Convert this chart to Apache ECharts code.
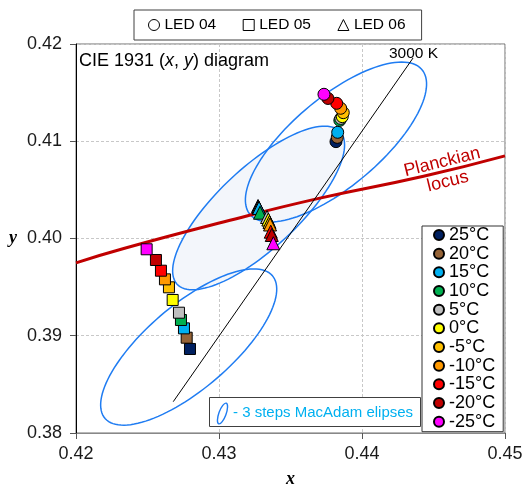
<!DOCTYPE html>
<html>
<head>
<meta charset="utf-8">
<style>
  html, body { margin: 0; padding: 0; background: #fff; }
  #chart { width: 523px; height: 484px; }
</style>
<script src="https://cdn.jsdelivr.net/npm/echarts@6/dist/echarts.min.js"></script>
</head>
<body>
<div id="chart"></div>
<script>
const FONT = '"Liberation Sans", Arial, sans-serif';
const SERIF = '"Liberation Serif", "Times New Roman", serif';

// temperatures and their colours (legend order)
const temps = ['25°C', '20°C', '15°C', '10°C', '5°C', '0°C', '-5°C', '-10°C', '-15°C', '-20°C', '-25°C'];
const tempColors = ['#002060', '#956336', '#00b0f0', '#00b050', '#bfbfbf', '#ffff00', '#ffc000', '#ff9900', '#ff0000', '#c00000', '#ff00ff'];

// chromaticity points, same order as temps
const led04X = [0.43818, 0.43827, 0.43830, 0.43845, 0.43852, 0.43862, 0.43869, 0.43851, 0.43823, 0.43762, 0.43734];
const led04Y = [0.40996, 0.41040, 0.41092, 0.41215, 0.41235, 0.41253, 0.41294, 0.41339, 0.41390, 0.41440, 0.41483];
const led05X = [0.42797, 0.42774, 0.42755, 0.42734, 0.42720, 0.42676, 0.42650, 0.42622, 0.42594, 0.42559, 0.42494];
const led05Y = [0.38864, 0.38980, 0.39076, 0.39162, 0.39237, 0.39368, 0.39498, 0.39580, 0.39669, 0.39779, 0.39889];
const led06X = [0.43273, 0.43276, 0.43280, 0.43287, 0.43336, 0.43345, 0.43353, 0.43357, 0.43362, 0.43369, 0.43380];
const led06Y = [0.40334, 0.40324, 0.40314, 0.40265, 0.40221, 0.40195, 0.40170, 0.40144, 0.40070, 0.40036, 0.39951];

// Planckian locus and 3000 K isotemperature line
const planckX = [0.4200, 0.4234, 0.4303, 0.4369, 0.4443, 0.4500];
const planckY = [0.3975, 0.3990, 0.4017, 0.4041, 0.4064, 0.4085];
const isoX = [0.42680, 0.44357];
const isoY = [0.38322, 0.41856];

// 3 step MacAdam ellipses: centre, semi axes, angle (deg), filled
const ellCx = [0.43277, 0.43818, 0.42788];
const ellCy = [0.40314, 0.40992, 0.38884];
const ellA = [0.0098, 0.0097, 0.0095];
const ellB = [0.0033, 0.0037, 0.0035];
const ellAngle = [57, 55, 55];
const ellFill = [1, 0, 0];

// axis ticks
const xTicks = { min: 0.42, max: 0.45, interval: 0.01 };
const yTicks = { min: 0.38, max: 0.42, interval: 0.01 };

// annotations anchored in data coordinates
const notes = [
  { text: '3000 K', x: 0.44360, y: 0.41900, rot: 0, color: '#000', size: 15.5 },
  { text: 'Planckian', x: 0.44560, y: 0.40785, rot: 0.243, color: '#c00000', size: 18 },
  { text: 'locus', x: 0.44600, y: 0.40585, rot: 0.243, color: '#c00000', size: 18 }
];

const chart = echarts.init(document.getElementById('chart'));

const ledSeries = (name, xs, ys, symbol, size) => ({
  name: name,
  type: 'scatter',
  symbol: symbol,
  symbolSize: size,
  z: 5,
  itemStyle: { color: '#fff', borderColor: '#000', borderWidth: 1, opacity: 1 },
  emphasis: { disabled: true },
  data: xs.map((x, i) => ({ value: [x, ys[i]], itemStyle: { color: tempColors[i] } }))
});

const tempSeries = temps.map((t, i) => ({
  name: t,
  type: 'scatter',
  symbol: 'circle',
  itemStyle: { color: tempColors[i], borderColor: '#000', borderWidth: 1, opacity: 1 },
  data: []
}));

const ellipseData = ellCx.map((cx, i) => [cx, ellCy[i], ellA[i], ellB[i], ellAngle[i], ellFill[i]]);

const option = {
  animation: false,
  backgroundColor: '#fff',
  title: {
    text: '{n|CIE 1931 (}{i|x}{n|, }{i|y}{n|) diagram}',
    left: 79,
    top: 51,
    padding: 0,
    textStyle: {
      fontWeight: 'normal',
      rich: {
        n: { fontFamily: FONT, fontSize: 18, fontWeight: 'normal', color: '#000', lineHeight: 20 },
        i: { fontFamily: FONT, fontSize: 18, fontWeight: 'normal', color: '#000', fontStyle: 'italic', lineHeight: 20 }
      }
    }
  },
  grid: {
    left: 76, right: 18, top: 44, bottom: 51,
    containLabel: false,
    outerBoundsMode: 'none',
    show: true, borderColor: '#6e6e6e', borderWidth: 1, backgroundColor: 'transparent'
  },
  legend: [
    {
      left: 134, top: 10,
      orient: 'horizontal',
      padding: [6, 16, 6, 14],
      itemGap: 26.5,
      itemWidth: 11, itemHeight: 11,
      borderColor: '#404040', borderWidth: 1, backgroundColor: '#fff',
      selectedMode: false,
      itemStyle: { color: '#fff', borderColor: '#000', borderWidth: 1 },
      textStyle: { fontFamily: FONT, fontSize: 15.5, color: '#000', lineHeight: 18 },
      data: [
        { name: 'LED 04', icon: 'circle' },
        { name: 'LED 05', icon: 'rect' },
        { name: 'LED 06', icon: 'triangle' }
      ]
    },
    {
      left: 422, top: 226,
      orient: 'vertical',
      padding: [0, 8, 1, 11],
      itemGap: 0.67,
      itemWidth: 10, itemHeight: 10,
      borderColor: '#333', borderWidth: 1, backgroundColor: '#fff',
      selectedMode: false,
      icon: 'circle',
      textStyle: { fontFamily: FONT, fontSize: 18, color: '#000', lineHeight: 18 },
      data: temps
    }
  ],
  xAxis: {
    type: 'value',
    min: xTicks.min, max: xTicks.max, interval: xTicks.interval,
    name: 'x',
    nameLocation: 'middle',
    nameGap: 37,
    nameTextStyle: { fontFamily: SERIF, fontStyle: 'italic', fontWeight: 'bold', fontSize: 18, color: '#000' },
    axisLine: { show: true, onZero: false, lineStyle: { color: '#888', width: 1 } },
    axisTick: { show: true, length: 6, lineStyle: { color: '#555' } },
    axisLabel: { margin: 12, fontFamily: FONT, fontSize: 18, color: '#1a1a1a', formatter: v => v.toFixed(2) },
    splitLine: { show: true, lineStyle: { color: '#c8c8c8', type: [3, 2], width: 1 } }
  },
  yAxis: {
    type: 'value',
    min: yTicks.min, max: yTicks.max, interval: yTicks.interval,
    name: 'y',
    nameLocation: 'middle',
    nameRotate: 0,
    nameGap: 59,
    nameTextStyle: { fontFamily: SERIF, fontStyle: 'italic', fontWeight: 'bold', fontSize: 18, color: '#000' },
    axisLine: { show: true, onZero: false, lineStyle: { color: '#000', width: 1 } },
    axisTick: { show: true, length: 6, lineStyle: { color: '#555' } },
    axisLabel: { margin: 14, fontFamily: FONT, fontSize: 18, color: '#1a1a1a', formatter: v => v.toFixed(2) },
    splitLine: { show: true, lineStyle: { color: '#c8c8c8', type: [3, 2], width: 1 } }
  },
  series: [
    {
      name: 'MacAdam',
      type: 'custom',
      z: 1,
      silent: true,
      encode: { x: 0, y: 1 },
      data: ellipseData,
      renderItem: (params, api) => {
        const cx = api.value(0), cy = api.value(1);
        const a = api.value(2), b = api.value(3);
        const ang = api.value(4) * Math.PI / 180;
        const filled = api.value(5) === 1;
        const pts = [];
        for (let k = 0; k < 120; k++) {
          const t = k / 120 * Math.PI * 2;
          const ex = a * Math.cos(t), ey = b * Math.sin(t);
          pts.push(api.coord([
            cx + ex * Math.cos(ang) - ey * Math.sin(ang),
            cy + ex * Math.sin(ang) + ey * Math.cos(ang)
          ]));
        }
        return {
          type: 'polygon',
          shape: { points: pts },
          style: { fill: filled ? '#f3f6fb' : 'none', stroke: '#1f7cf2', lineWidth: 1.5 }
        };
      }
    },
    {
      name: 'Planckian locus',
      type: 'line',
      z: 2,
      smooth: true,
      symbol: 'none',
      silent: true,
      lineStyle: { color: '#c00000', width: 3 },
      data: planckX.map((x, i) => [x, planckY[i]])
    },
    {
      name: '3000 K',
      type: 'line',
      z: 3,
      symbol: 'none',
      silent: true,
      lineStyle: { color: '#000', width: 1 },
      data: isoX.map((x, i) => [x, isoY[i]])
    },
    ledSeries('LED 04', led04X, led04Y, 'circle', 12),
    ledSeries('LED 05', led05X, led05Y, 'rect', 11),
    ledSeries('LED 06', led06X, led06Y, 'triangle', 13)
  ].concat(tempSeries)
};

chart.setOption(option);

// annotations and the MacAdam legend box
const graphics = notes.map(n => {
  const p = chart.convertToPixel({ gridIndex: 0 }, [n.x, n.y]);
  return {
    type: 'text',
    x: p[0], y: p[1],
    rotation: n.rot,
    z: 10,
    style: {
      text: n.text, fill: n.color,
      font: n.size + 'px ' + FONT,
      align: 'center', verticalAlign: 'middle'
    }
  };
});
graphics.push({
  type: 'group',
  z: 20,
  children: [
    { type: 'rect', shape: { x: 209.5, y: 397.5, width: 211, height: 29 },
      style: { fill: '#fff', stroke: '#404040', lineWidth: 1 } },
    { type: 'ellipse', x: 222.5, y: 413.5, rotation: -0.35,
      shape: { cx: 0, cy: 0, rx: 3.6, ry: 11 },
      style: { fill: 'none', stroke: '#1f7cf2', lineWidth: 1.4 } },
    { type: 'text', x: 233, y: 412.5,
      style: { text: '- 3 steps MacAdam elipses', fill: '#00b0f0',
        font: '15px ' + FONT, verticalAlign: 'middle' } }
  ]
});
chart.setOption({ graphic: graphics });
</script>
</body>
</html>
